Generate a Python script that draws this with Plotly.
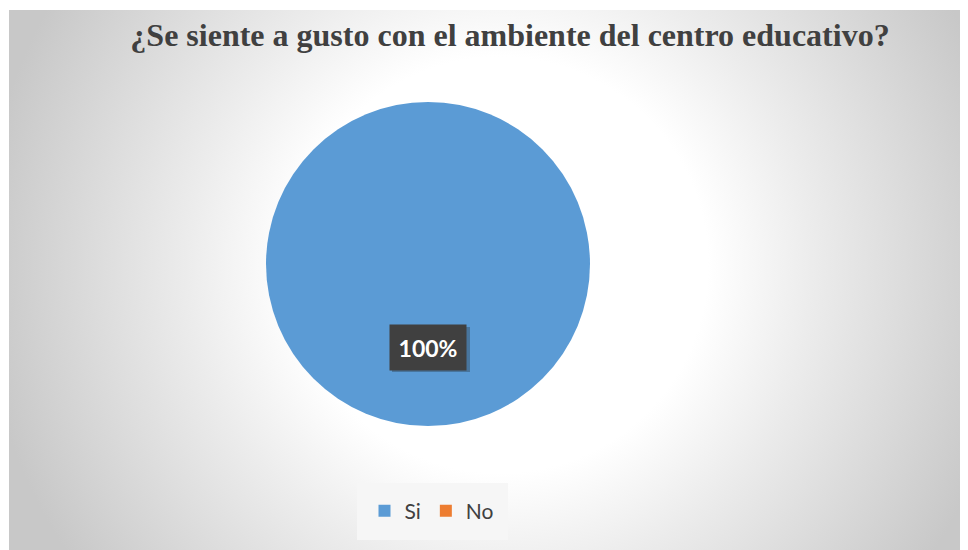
import base64
import plotly.graph_objects as go

labels = ["Si", "No"]
values = [100, 0]
colors = ["#5B9BD5", "#ED7D31"]
title_text = "¿Se siente a gusto con el ambiente del centro educativo?"

# the page body adds an 8px margin, so the figure is sized to fit the window
OFF = 8
W, H = 968 - OFF, 550 - OFF


def px(x):
    return (x - OFF) / W


def py(y):
    return 1 - (y - OFF) / H


# radial grey gradient behind the chart, as an inline svg
svg = """<svg xmlns='http://www.w3.org/2000/svg' width='959' height='540'>
<defs><radialGradient id='g' gradientUnits='userSpaceOnUse' cx='491' cy='255' r='520'>
<stop offset='0' stop-color='#ffffff'/>
<stop offset='0.4' stop-color='#ffffff'/>
<stop offset='0.6' stop-color='#ececec'/>
<stop offset='0.8' stop-color='#dadada'/>
<stop offset='1' stop-color='#c8c8c8'/>
</radialGradient></defs>
<rect width='959' height='540' fill='url(#g)'/></svg>"""
bg_src = "data:image/svg+xml;base64," + base64.b64encode(svg.encode()).decode()

share = 100 * values[0] / sum(values)

fig = go.Figure(go.Pie(
    labels=labels,
    values=values,
    marker=dict(colors=colors, line=dict(width=0)),
    textinfo="none",
    hoverinfo="label+percent",
    sort=False,
    direction="clockwise",
    domain=dict(x=[px(266), px(590)], y=[py(426), py(102)]),
))

# soft shadow behind the data label
fig.add_shape(type="rect", xref="paper", yref="paper",
              x0=px(392), x1=px(470), y0=py(372), y1=py(327),
              fillcolor="rgba(30,30,30,0.3)", line=dict(width=0), layer="above")

fig.add_annotation(
    x=px(428), y=py(347), xref="paper", yref="paper",
    text=f"<b>{share:.0f}%</b>", showarrow=False,
    font=dict(family="Lato, Open Sans, sans-serif", size=23, color="white"),
    bgcolor="#404040", borderpad=8, width=60, height=29,
)

fig.update_layout(
    width=W, height=H,
    margin=dict(l=0, r=0, t=0, b=0),
    paper_bgcolor="white",
    images=[dict(source=bg_src, xref="paper", yref="paper",
                 x=px(9), y=py(10), sizex=1 - px(9), sizey=py(10),
                 xanchor="left", yanchor="top", sizing="stretch", layer="below")],
    title=dict(text=f"<b>{title_text}</b>", x=px(510), xanchor="center",
               y=py(35), yanchor="middle",
               font=dict(family="Liberation Serif, Times New Roman, serif",
                         size=32, color="#404040")),
    showlegend=True,
    legend=dict(orientation="h", x=px(432), xanchor="center",
                y=py(511), yanchor="middle",
                bgcolor="#f6f6f6", bordercolor="#f6f6f6", borderwidth=8,
                font=dict(family="Lato, Open Sans, sans-serif", size=21, color="#404040"),
                itemwidth=30, traceorder="normal"),
)

fig.write_html("out.html")
